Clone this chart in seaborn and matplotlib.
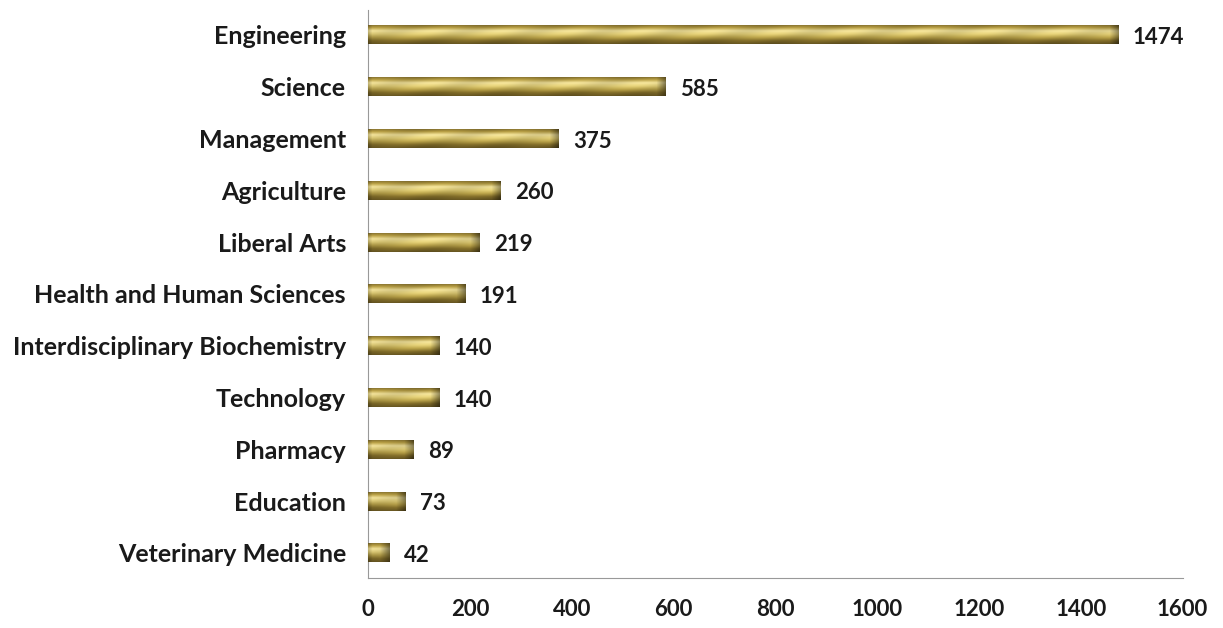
import numpy as np
import pandas as pd
import seaborn as sns
import matplotlib.pyplot as plt
from matplotlib.colors import LinearSegmentedColormap

sns.set_style('white')
plt.rcParams['font.family'] = ['Lato', 'DejaVu Sans']

colleges = ['Engineering', 'Science', 'Management', 'Agriculture', 'Liberal Arts',
            'Health and Human Sciences', 'Interdisciplinary Biochemistry',
            'Technology', 'Pharmacy', 'Education', 'Veterinary Medicine']
counts = [1474, 585, 375, 260, 219, 191, 140, 140, 89, 73, 42]
xticks = [0, 200, 400, 600, 800, 1000, 1200, 1400, 1600]

df = pd.DataFrame({'College': colleges, 'Count': counts})

fig = plt.figure(figsize=(12.23, 6.28), dpi=100)
ax = fig.add_axes([0.301, 0.080, 0.666, 0.904])

sns.barplot(x='Count', y='College', data=df, color='#c9b45a', width=0.37, ax=ax)

# golden gradient for every bar (vertical shading + darker ends + faint diagonal sheen)
gold = LinearSegmentedColormap.from_list(
    'gold', ['#74622a', '#ae963f', '#eadb96', '#dcc974', '#b49e48', '#7e6a28', '#625220'])
px_per_unit = 815 / 1600
for patch in ax.patches:
    x0, y0 = patch.get_x(), patch.get_y()
    w, h = patch.get_width(), patch.get_height()
    npx = max(int(w * px_per_unit), 4)
    yy = np.linspace(0, 1, 40).reshape(-1, 1)
    xx = np.arange(npx).reshape(1, -1)
    base = gold(np.repeat(yy, npx, axis=1))[..., :3]
    end = np.clip((xx - (npx - 10)) / 10, 0, 1) * 0.45
    start = np.clip(1 - xx / 4, 0, 1) * 0.2
    sheen = 0.06 * np.sin((xx * 0.09 + yy * 6.0))
    shade = 1 - end - start + sheen
    img = np.clip(base * shade[..., None], 0, 1)
    im = ax.imshow(img, aspect='auto', extent=[x0, x0 + w, y0 + h, y0],
                   zorder=3, interpolation='bilinear')
    im.set_clip_path(patch)
    patch.set_edgecolor('none')

for i, v in enumerate(counts):
    ax.text(v + 28, i + 0.05, str(v), va='center', ha='left', fontsize=16,
            fontweight='bold', color='#1a1a1a', zorder=5)

ax.set_xlim(0, 1600)
ax.set_ylim(10.48, -0.48)
ax.set_xticks(xticks)
ax.set_xticklabels([str(t) for t in xticks], fontsize=16, fontweight='bold',
                   color='#1a1a1a')
ax.tick_params(axis='x', length=0, pad=15)
ax.tick_params(axis='y', length=0, pad=16)
for lbl in ax.get_yticklabels():
    lbl.set_fontsize(18)
    lbl.set_fontweight('bold')
    lbl.set_color('#1a1a1a')
ax.set_xlabel('')
ax.set_ylabel('')
for s in ['top', 'right']:
    ax.spines[s].set_visible(False)
ax.spines['left'].set_color('#999999')
ax.spines['bottom'].set_color('#999999')

fig.savefig('out.png', dpi=100)
